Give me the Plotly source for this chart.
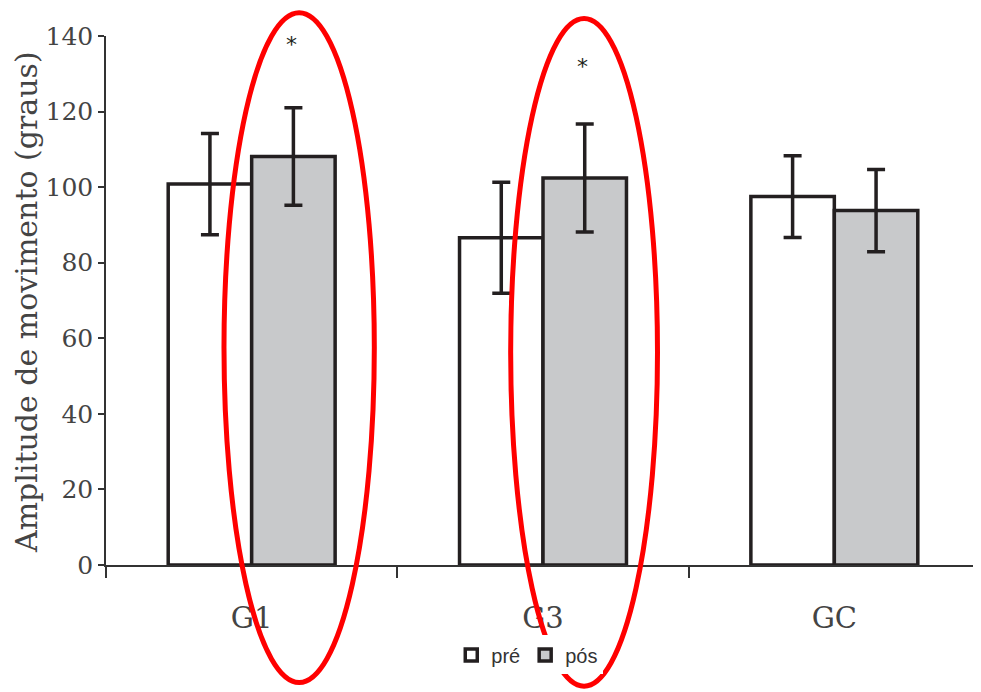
import plotly.graph_objects as go

categories = ["G1", "G3", "GC"]
pre_values = [100.8, 86.6, 97.5]
pre_errors = [13.4, 14.7, 10.8]
pos_values = [108.1, 102.4, 93.8]
pos_errors = [12.9, 14.3, 10.9]
series_names = ["pré", "pós"]
star_groups = [0, 1]
star_values = [139.4, 133.5]
y_ticks = [0, 20, 40, 60, 80, 100, 120, 140]
y_title = "Amplitude de movimento (graus)"

ink = "#231f20"
fig = go.Figure()
fig.add_trace(go.Bar(
    x=categories, y=pre_values, name=series_names[0],
    marker=dict(color="white", line=dict(color=ink, width=3.5)),
    error_y=dict(type="data", array=pre_errors, color=ink, thickness=3.5, width=9),
))
fig.add_trace(go.Bar(
    x=categories, y=pos_values, name=series_names[1],
    marker=dict(color="#c8c9cb", line=dict(color=ink, width=3.5)),
    error_y=dict(type="data", array=pos_errors, color=ink, thickness=3.5, width=9),
))

annotations = []
for g, v in zip(star_groups, star_values):
    annotations.append(dict(x=g + 0.135, y=v, xref="x", yref="y", text="*",
                            showarrow=False, font=dict(family="DejaVu Sans", size=22, color=ink),
                            yanchor="middle", yshift=-6))
annotations.append(dict(x=-0.091, y=0.498, xref="paper", yref="paper", text=y_title,
                        textangle=-90, showarrow=False,
                        font=dict(family="DejaVu Serif", size=30, color="#444444"),
                        xanchor="center", yanchor="middle"))

shapes = [
    dict(type="circle", xref="paper", yref="paper", x0=0.135, x1=0.307, y0=-0.222, y1=1.044,
         line=dict(color="#ff0000", width=5)),
    dict(type="circle", xref="paper", yref="paper", x0=0.463, x1=0.631, y0=-0.229, y1=1.033,
         line=dict(color="#ff0000", width=5)),
]

# page body has an 8px margin, so the figure is shrunk and offset by it
fig.update_layout(
    width=973, height=684,
    margin=dict(l=98, r=1, t=28, b=127, autoexpand=False),
    paper_bgcolor="white", plot_bgcolor="white",
    barmode="group", bargap=0.427, bargroupgap=0,
    showlegend=True,
    legend=dict(orientation="h", x=0.482, xanchor="center", y=-0.17, yanchor="middle",
                font=dict(family="Liberation Sans", size=20, color="#333333"),
                itemwidth=30, tracegroupgap=0),
    annotations=annotations,
    shapes=shapes,
)
fig.update_xaxes(
    type="category", tickson="boundaries", ticks="outside", ticklen=11, tickwidth=1.5,
    tickcolor="#333333", showline=True, linecolor="#333333", linewidth=1.5,
    showgrid=False, ticklabelstandoff=26, automargin=False,
    tickfont=dict(family="DejaVu Serif", size=29, color="#444444"),
    range=[-0.5, 2.5],
)
fig.update_yaxes(
    range=[0, 140], tickvals=y_ticks, ticks="outside", ticklen=6, tickwidth=1.5,
    tickcolor="#333333", showline=True, linecolor="#333333", linewidth=1.5,
    showgrid=False, zeroline=False, automargin=False,
    tickfont=dict(family="DejaVu Serif", size=25, color="#444444"),
)
fig.write_html("out.html")
